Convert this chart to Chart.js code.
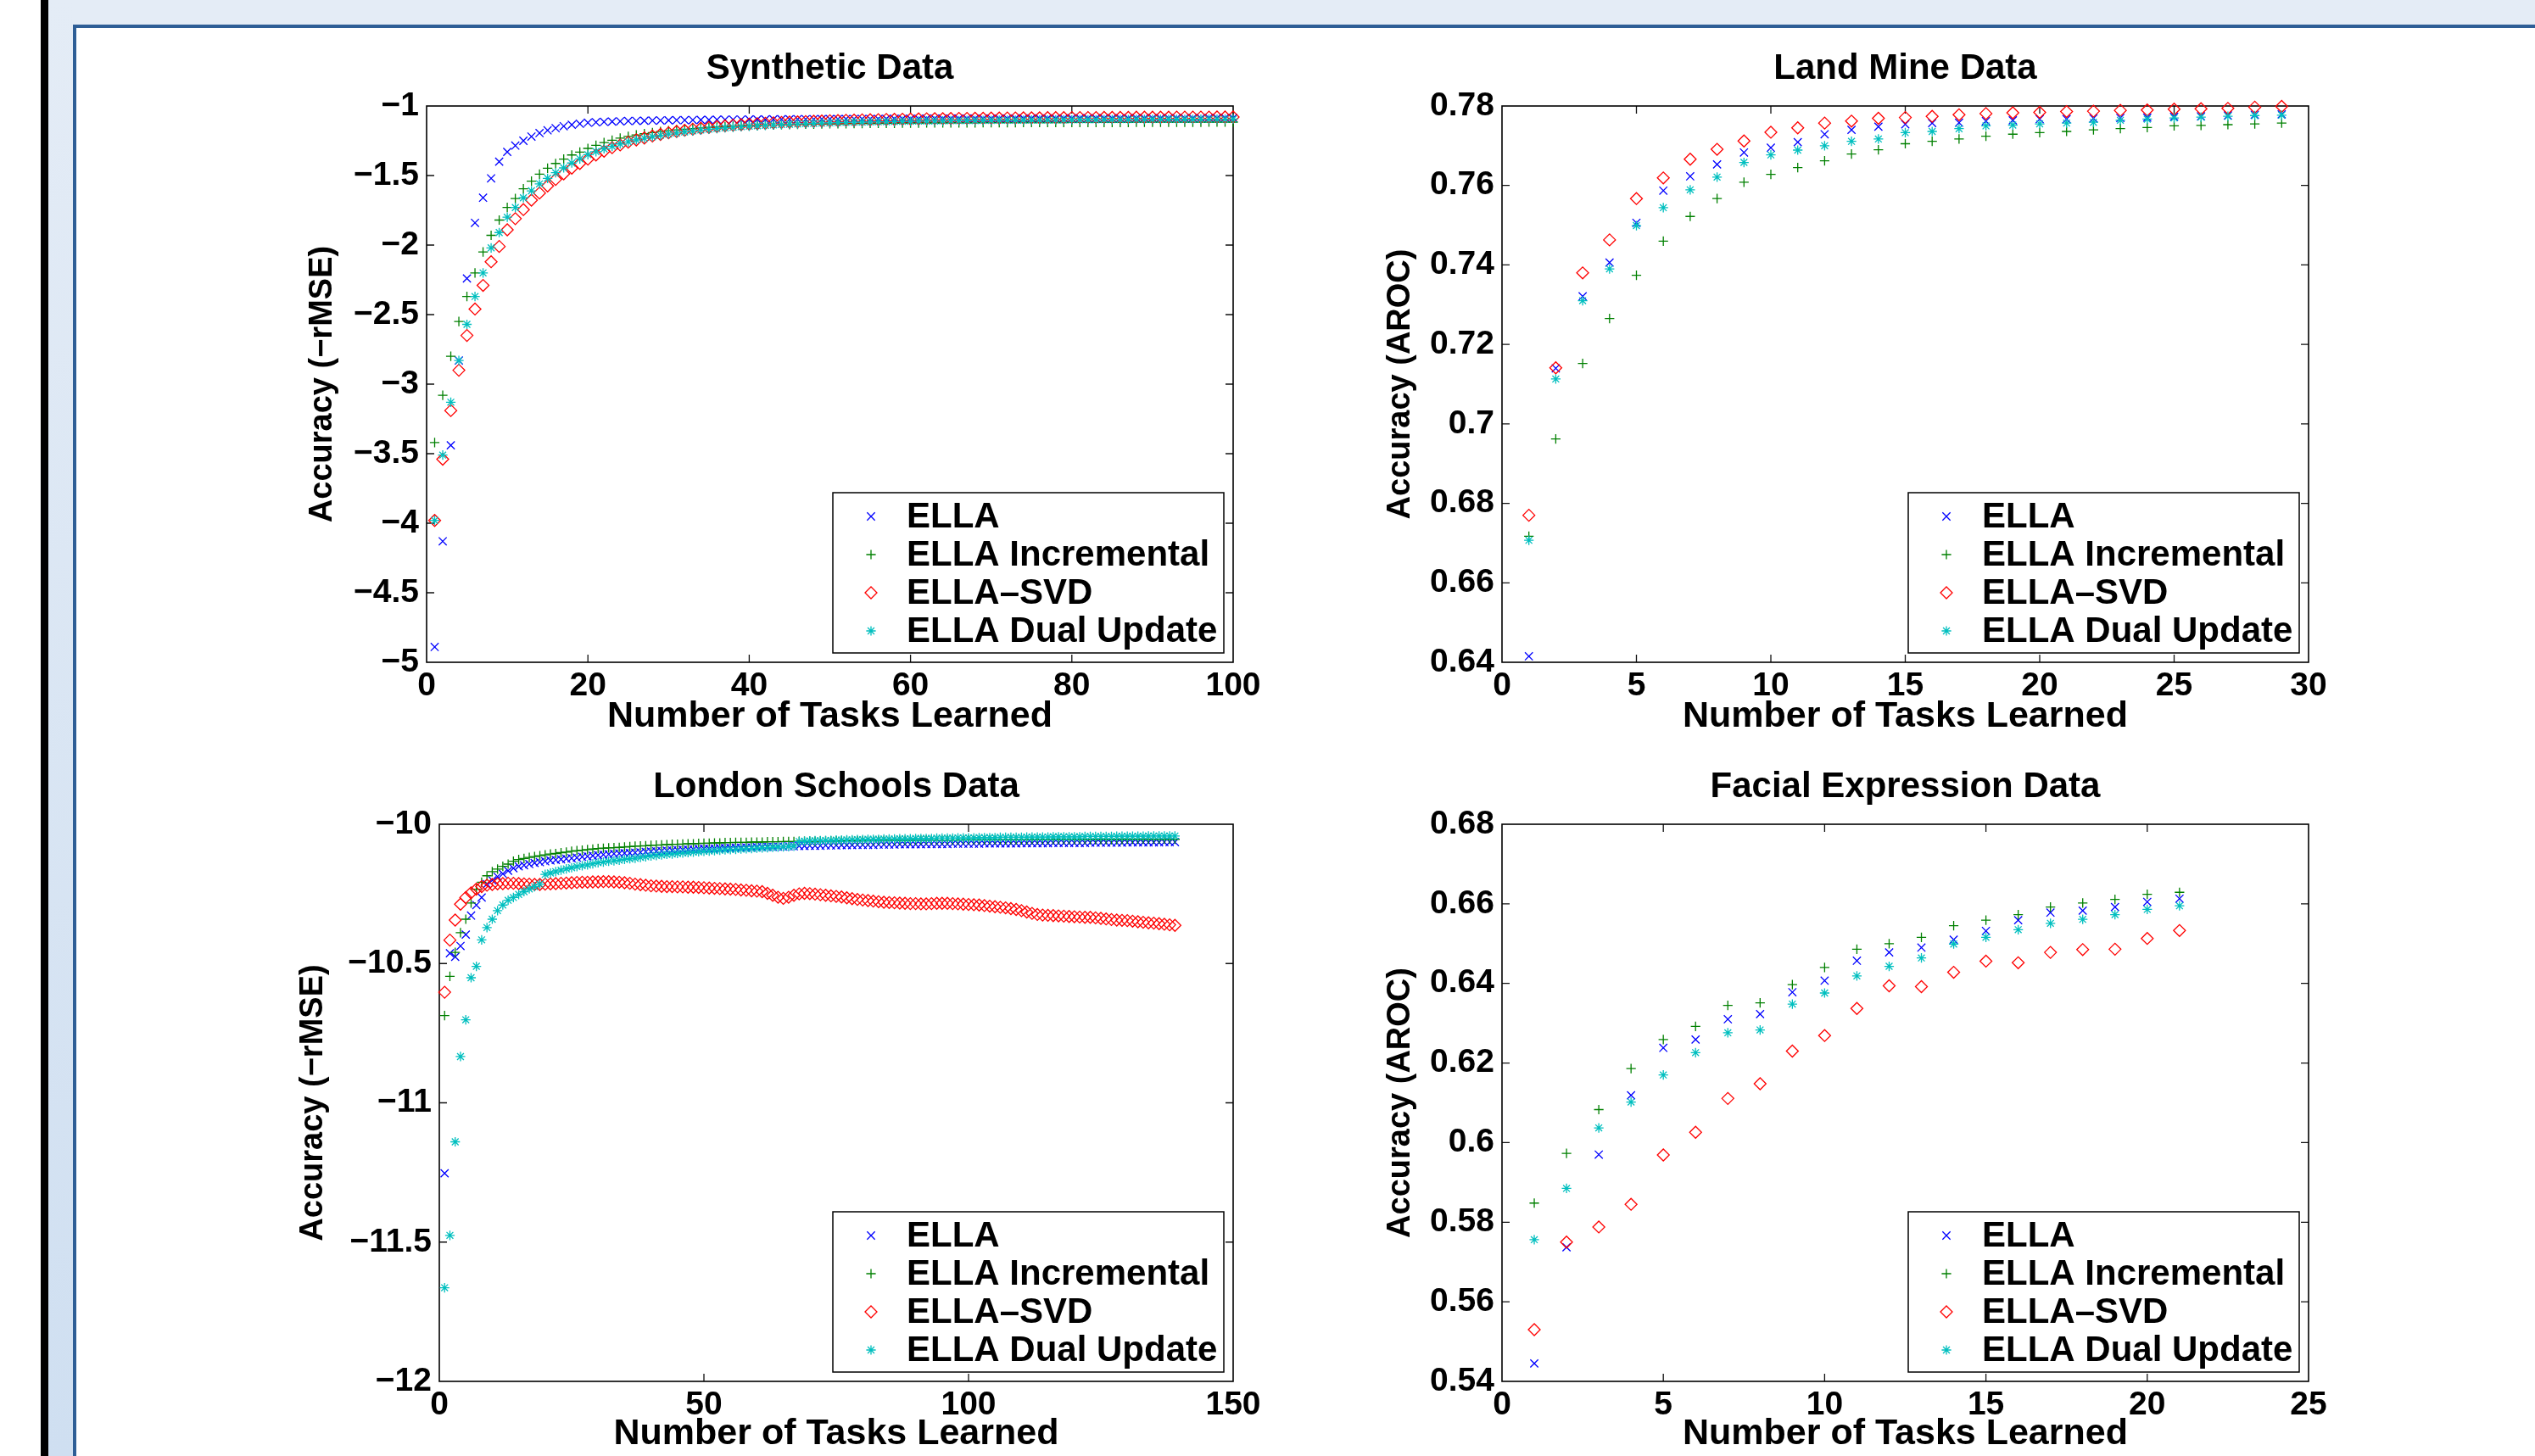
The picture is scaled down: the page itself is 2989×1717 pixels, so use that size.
<!DOCTYPE html>
<html>
<head>
<meta charset="utf-8">
<title>ELLA variants - accuracy vs number of tasks</title>
<script src="https://cdn.jsdelivr.net/npm/chart.js@4/dist/chart.umd.min.js"></script>
<style>
  html, body { margin: 0; padding: 0; background: #fff; }
  #page { position: relative; width: 2989px; height: 1717px; overflow: hidden; background: #fff; }
  .deco { position: absolute; }
  canvas { position: absolute; }
</style>
</head>
<body>
<div id="page">
  <div class="deco" style="left:48px;top:0;width:9px;height:1717px;background:#000"></div>
  <div class="deco" style="left:57px;top:0;width:2932px;height:30px;background:#e4ecf6"></div>
  <div class="deco" style="left:57px;top:0;width:29px;height:1717px;background:linear-gradient(#e4ecf6,#cfdff1)"></div>
  <div class="deco" style="left:86px;top:29px;width:2903px;height:1688px;box-sizing:border-box;border-left:4px solid #2e5e96;border-top:4px solid #2e5e96;background:#fff"></div>
  <canvas id="synthetic"></canvas>
  <canvas id="landmine"></canvas>
  <canvas id="london"></canvas>
  <canvas id="facial"></canvas>
</div>
<script>
// ---- series names ----
const seriesLabels = ['ELLA', 'ELLA Incremental', 'ELLA\u2013SVD', 'ELLA Dual Update'];

// ---- tick values ----
const synthXTicks = [0, 20, 40, 60, 80, 100];
const synthYTicks = [-5, -4.5, -4, -3.5, -3, -2.5, -2, -1.5, -1];
const landXTicks = [0, 5, 10, 15, 20, 25, 30];
const landYTicks = [0.64, 0.66, 0.68, 0.7, 0.72, 0.74, 0.76, 0.78];
const londonXTicks = [0, 50, 100, 150];
const londonYTicks = [-12, -11.5, -11, -10.5, -10];
const faceXTicks = [0, 5, 10, 15, 20, 25];
const faceYTicks = [0.54, 0.56, 0.58, 0.6, 0.62, 0.64, 0.66, 0.68];

// ---- Synthetic Data (tasks 1..100) ----
const synthElla = [
  -4.89, -4.13, -3.44, -2.83, -2.24, -1.84, -1.66, -1.52, -1.40, -1.33,
  -1.285, -1.25, -1.22, -1.195, -1.175, -1.16, -1.145, -1.135, -1.128, -1.12,
  -1.117, -1.114, -1.112, -1.110, -1.108, -1.107, -1.106, -1.105, -1.104, -1.103,
  -1.102, -1.102, -1.101, -1.100, -1.100, -1.099, -1.099, -1.098, -1.098, -1.097,
  -1.097, -1.097, -1.096, -1.096, -1.096, -1.095, -1.095, -1.095, -1.094, -1.094,
  -1.094, -1.094, -1.093, -1.093, -1.093, -1.093, -1.092, -1.092, -1.092, -1.092,
  -1.092, -1.091, -1.091, -1.091, -1.091, -1.091, -1.090, -1.090, -1.090, -1.090,
  -1.090, -1.090, -1.089, -1.089, -1.089, -1.089, -1.089, -1.089, -1.089, -1.088,
  -1.088, -1.088, -1.088, -1.088, -1.088, -1.088, -1.088, -1.087, -1.087, -1.087,
  -1.087, -1.087, -1.087, -1.087, -1.087, -1.087, -1.086, -1.086, -1.086, -1.086
];
const synthIncremental = [
  -3.42, -3.08, -2.80, -2.55, -2.37, -2.20, -2.05, -1.93, -1.82, -1.73,
  -1.665, -1.595, -1.54, -1.49, -1.447, -1.413, -1.382, -1.352, -1.331, -1.305,
  -1.283, -1.263, -1.246, -1.231, -1.219, -1.208, -1.199, -1.191, -1.184, -1.178,
  -1.172, -1.167, -1.162, -1.158, -1.154, -1.151, -1.148, -1.145, -1.143, -1.141,
  -1.139, -1.137, -1.136, -1.134, -1.133, -1.132, -1.131, -1.130, -1.129, -1.128,
  -1.128, -1.127, -1.126, -1.126, -1.125, -1.125, -1.124, -1.124, -1.123, -1.123,
  -1.123, -1.122, -1.122, -1.122, -1.121, -1.121, -1.121, -1.121, -1.120, -1.120,
  -1.120, -1.120, -1.120, -1.119, -1.119, -1.119, -1.119, -1.119, -1.119, -1.118,
  -1.118, -1.118, -1.118, -1.118, -1.118, -1.118, -1.118, -1.117, -1.117, -1.117,
  -1.117, -1.117, -1.117, -1.117, -1.117, -1.117, -1.116, -1.116, -1.116, -1.116
];
const synthSvd = [
  -3.98, -3.54, -3.19, -2.90, -2.65, -2.46, -2.29, -2.12, -2.01, -1.89,
  -1.81, -1.745, -1.677, -1.626, -1.575, -1.528, -1.488, -1.447, -1.413, -1.382,
  -1.352, -1.325, -1.30, -1.28, -1.26, -1.244, -1.23, -1.216, -1.204, -1.193,
  -1.183, -1.175, -1.167, -1.160, -1.154, -1.148, -1.143, -1.138, -1.134, -1.130,
  -1.127, -1.124, -1.121, -1.118, -1.116, -1.114, -1.112, -1.110, -1.108, -1.106,
  -1.105, -1.103, -1.102, -1.100, -1.099, -1.098, -1.097, -1.096, -1.095, -1.094,
  -1.093, -1.092, -1.091, -1.091, -1.090, -1.089, -1.089, -1.088, -1.088, -1.087,
  -1.087, -1.086, -1.086, -1.085, -1.085, -1.085, -1.084, -1.084, -1.084, -1.083,
  -1.083, -1.083, -1.083, -1.082, -1.082, -1.082, -1.082, -1.081, -1.081, -1.081,
  -1.081, -1.081, -1.080, -1.080, -1.080, -1.080, -1.080, -1.079, -1.079, -1.079
];
const synthDual = [
  -3.98, -3.51, -3.13, -2.83, -2.57, -2.37, -2.20, -2.02, -1.91, -1.80,
  -1.73, -1.66, -1.61, -1.56, -1.52, -1.48, -1.445, -1.41, -1.38, -1.35,
  -1.328, -1.308, -1.29, -1.273, -1.258, -1.244, -1.232, -1.221, -1.211, -1.202,
  -1.194, -1.186, -1.179, -1.173, -1.167, -1.162, -1.157, -1.153, -1.149, -1.145,
  -1.142, -1.139, -1.136, -1.133, -1.131, -1.129, -1.127, -1.125, -1.123, -1.121,
  -1.120, -1.118, -1.117, -1.116, -1.115, -1.114, -1.113, -1.112, -1.111, -1.110,
  -1.109, -1.108, -1.108, -1.107, -1.106, -1.106, -1.105, -1.105, -1.104, -1.104,
  -1.103, -1.103, -1.102, -1.102, -1.101, -1.101, -1.101, -1.100, -1.100, -1.100,
  -1.099, -1.099, -1.099, -1.098, -1.098, -1.098, -1.098, -1.097, -1.097, -1.097,
  -1.097, -1.096, -1.096, -1.096, -1.096, -1.095, -1.095, -1.095, -1.095, -1.094
];

// ---- Land Mine Data (tasks 1..29) ----
const landElla = [0.6415, 0.7140, 0.7321, 0.7406, 0.7506, 0.7587, 0.7623, 0.7653, 0.7683, 0.7695,
  0.7709, 0.7729, 0.7740, 0.7748, 0.7754, 0.7757, 0.7758, 0.7762, 0.7764, 0.7767,
  0.7767, 0.7769, 0.7770, 0.7771, 0.7773, 0.7774, 0.7776, 0.7778, 0.7779];
const landIncremental = [0.6717, 0.6962, 0.7152, 0.7265, 0.7374, 0.7460, 0.7522, 0.7567, 0.7608, 0.7628,
  0.7645, 0.7662, 0.7679, 0.7690, 0.7705, 0.7711, 0.7717, 0.7724, 0.7729, 0.7733,
  0.7736, 0.7740, 0.7743, 0.7746, 0.7750, 0.7751, 0.7753, 0.7755, 0.7757];
const landSvd = [0.6770, 0.7141, 0.7380, 0.7463, 0.7567, 0.7619, 0.7666, 0.7691, 0.7712, 0.7734,
  0.7745, 0.7757, 0.7762, 0.7769, 0.7771, 0.7774, 0.7778, 0.7781, 0.7783, 0.7784,
  0.7786, 0.7787, 0.7789, 0.7790, 0.7792, 0.7793, 0.7794, 0.7797, 0.7799];
const landDual = [0.6707, 0.7113, 0.7310, 0.7390, 0.7499, 0.7544, 0.7589, 0.7621, 0.7658, 0.7677,
  0.7689, 0.7700, 0.7711, 0.7717, 0.7733, 0.7736, 0.7743, 0.7750, 0.7752, 0.7755,
  0.7757, 0.7759, 0.7764, 0.7767, 0.7770, 0.7772, 0.7774, 0.7776, 0.7777];

// ---- London Schools Data (tasks 1..139) ----
const londonElla = [
  -11.253, -10.463, -10.476, -10.437, -10.396, -10.328, -10.290, -10.263, -10.215, -10.201,
  -10.188, -10.178, -10.167, -10.158, -10.151, -10.147, -10.143, -10.139, -10.136, -10.133,
  -10.130, -10.128, -10.126, -10.124, -10.122, -10.120, -10.117, -10.115, -10.113, -10.111,
  -10.109, -10.108, -10.106, -10.105, -10.104, -10.103, -10.102, -10.101, -10.099, -10.098,
  -10.097, -10.096, -10.095, -10.094, -10.093, -10.092, -10.091, -10.090, -10.089, -10.088,
  -10.088, -10.087, -10.086, -10.086, -10.085, -10.084, -10.084, -10.083, -10.083, -10.082,
  -10.082, -10.081, -10.081, -10.080, -10.080, -10.079, -10.079, -10.078, -10.078, -10.077,
  -10.077, -10.077, -10.076, -10.076, -10.076, -10.075, -10.075, -10.075, -10.074, -10.074,
  -10.074, -10.074, -10.073, -10.073, -10.073, -10.073, -10.072, -10.072, -10.072, -10.072,
  -10.072, -10.071, -10.071, -10.071, -10.071, -10.071, -10.070, -10.070, -10.070, -10.070,
  -10.070, -10.070, -10.069, -10.069, -10.069, -10.069, -10.069, -10.069, -10.069, -10.068,
  -10.068, -10.068, -10.068, -10.068, -10.068, -10.067, -10.067, -10.067, -10.067, -10.067,
  -10.067, -10.067, -10.066, -10.066, -10.066, -10.066, -10.066, -10.066, -10.066, -10.065,
  -10.065, -10.065, -10.065, -10.065, -10.065, -10.065, -10.064, -10.064, -10.064
];
const londonIncremental = [
  -10.687, -10.546, -10.460, -10.389, -10.341, -10.283, -10.233, -10.208, -10.185, -10.170,
  -10.161, -10.151, -10.143, -10.133, -10.127, -10.123, -10.119, -10.116, -10.113, -10.110,
  -10.107, -10.105, -10.102, -10.100, -10.097, -10.095, -10.093, -10.091, -10.089, -10.087,
  -10.086, -10.085, -10.084, -10.083, -10.082, -10.080, -10.079, -10.078, -10.077, -10.076,
  -10.075, -10.074, -10.073, -10.072, -10.072, -10.071, -10.070, -10.070, -10.069, -10.068,
  -10.068, -10.067, -10.067, -10.066, -10.066, -10.065, -10.065, -10.065, -10.064, -10.064,
  -10.064, -10.063, -10.063, -10.063, -10.062, -10.062, -10.062, -10.061, -10.061, -10.061,
  -10.061, -10.060, -10.060, -10.060, -10.060, -10.060, -10.059, -10.059, -10.059, -10.059,
  -10.059, -10.059, -10.058, -10.058, -10.058, -10.058, -10.058, -10.058, -10.058, -10.057,
  -10.057, -10.057, -10.057, -10.057, -10.057, -10.057, -10.057, -10.057, -10.056, -10.056,
  -10.056, -10.056, -10.056, -10.056, -10.056, -10.056, -10.056, -10.056, -10.056, -10.056,
  -10.056, -10.055, -10.055, -10.055, -10.055, -10.055, -10.055, -10.055, -10.055, -10.055,
  -10.055, -10.055, -10.055, -10.055, -10.055, -10.055, -10.055, -10.055, -10.055, -10.054,
  -10.054, -10.054, -10.054, -10.054, -10.054, -10.054, -10.054, -10.054, -10.054
];
const londonSvd = [
  -10.603, -10.416, -10.344, -10.287, -10.263, -10.246, -10.233, -10.224, -10.219, -10.216,
  -10.214, -10.213, -10.212, -10.212, -10.213, -10.214, -10.215, -10.216, -10.216, -10.215,
  -10.214, -10.213, -10.212, -10.211, -10.210, -10.209, -10.208, -10.208, -10.207, -10.207,
  -10.206, -10.206, -10.207, -10.208, -10.210, -10.212, -10.215, -10.217, -10.219, -10.221,
  -10.222, -10.223, -10.224, -10.224, -10.225, -10.225, -10.226, -10.226, -10.227, -10.228,
  -10.229, -10.230, -10.231, -10.232, -10.233, -10.234, -10.236, -10.237, -10.239, -10.240,
  -10.242, -10.248, -10.255, -10.262, -10.266, -10.262, -10.255, -10.250, -10.248, -10.249,
  -10.251, -10.253, -10.255, -10.257, -10.259, -10.261, -10.264, -10.267, -10.270, -10.272,
  -10.274, -10.276, -10.278, -10.280, -10.281, -10.282, -10.283, -10.284, -10.285, -10.285,
  -10.286, -10.286, -10.285, -10.284, -10.284, -10.284, -10.285, -10.286, -10.287, -10.288,
  -10.289, -10.290, -10.292, -10.294, -10.296, -10.298, -10.300, -10.303, -10.306, -10.310,
  -10.315, -10.320, -10.324, -10.326, -10.327, -10.328, -10.329, -10.330, -10.331, -10.332,
  -10.333, -10.334, -10.334, -10.336, -10.338, -10.340, -10.342, -10.344, -10.345, -10.346,
  -10.348, -10.350, -10.352, -10.354, -10.355, -10.357, -10.359, -10.361, -10.363
];
const londonDual = [
  -11.664, -11.476, -11.140, -10.834, -10.702, -10.551, -10.510, -10.415, -10.371, -10.341,
  -10.310, -10.290, -10.273, -10.263, -10.252, -10.242, -10.232, -10.224, -10.215, -10.180,
  -10.175, -10.170, -10.165, -10.160, -10.156, -10.152, -10.149, -10.146, -10.142, -10.138,
  -10.136, -10.133, -10.131, -10.129, -10.126, -10.124, -10.122, -10.119, -10.117, -10.114,
  -10.112, -10.110, -10.108, -10.107, -10.105, -10.103, -10.102, -10.100, -10.099, -10.097,
  -10.096, -10.095, -10.093, -10.092, -10.091, -10.090, -10.089, -10.088, -10.087, -10.086,
  -10.085, -10.084, -10.083, -10.082, -10.081, -10.080, -10.079, -10.062, -10.061, -10.060,
  -10.059, -10.059, -10.058, -10.058, -10.057, -10.057, -10.056, -10.056, -10.055, -10.055,
  -10.054, -10.054, -10.054, -10.053, -10.053, -10.053, -10.052, -10.052, -10.052, -10.051,
  -10.051, -10.051, -10.051, -10.050, -10.050, -10.050, -10.050, -10.049, -10.049, -10.049,
  -10.049, -10.048, -10.048, -10.048, -10.048, -10.047, -10.047, -10.047, -10.047, -10.047,
  -10.046, -10.046, -10.046, -10.046, -10.046, -10.045, -10.045, -10.045, -10.045, -10.045,
  -10.045, -10.044, -10.044, -10.044, -10.044, -10.044, -10.044, -10.043, -10.043, -10.043,
  -10.043, -10.043, -10.043, -10.042, -10.042, -10.042, -10.042, -10.042, -10.042
];

// ---- Facial Expression Data (tasks 1..21) ----
const faceElla = [0.5445, 0.5737, 0.5970, 0.6119, 0.6238, 0.6259, 0.6310, 0.6323, 0.6378, 0.6407,
  0.6457, 0.6478, 0.6490, 0.6510, 0.6532, 0.6559, 0.6578, 0.6583, 0.6592, 0.6605, 0.6613];
const faceIncremental = [0.5848, 0.5973, 0.6083, 0.6186, 0.6259, 0.6292, 0.6345, 0.6351, 0.6397, 0.6440,
  0.6486, 0.6500, 0.6516, 0.6545, 0.6559, 0.6573, 0.6592, 0.6602, 0.6611, 0.6624, 0.6629];
const faceSvd = [0.5530, 0.5750, 0.5788, 0.5845, 0.5969, 0.6026, 0.6111, 0.6148, 0.6230, 0.6269,
  0.6337, 0.6394, 0.6392, 0.6428, 0.6456, 0.6452, 0.6478, 0.6485, 0.6486, 0.6513, 0.6533];
const faceDual = [0.5756, 0.5885, 0.6037, 0.6102, 0.6170, 0.6226, 0.6276, 0.6283, 0.6348, 0.6376,
  0.6419, 0.6443, 0.6464, 0.6499, 0.6516, 0.6535, 0.6551, 0.6561, 0.6573, 0.6586, 0.6595];

// marker look per series (matlab x, +, diamond, *)
const seriesMarkers = [
  { pointStyle: 'crossRot', radius: 6.6, color: '#0000ff', order: 4 },
  { pointStyle: 'cross', radius: 5.6, color: '#008000', order: 3 },
  { pointStyle: 'rectRot', radius: 7, color: '#ff0000', order: 2 },
  { pointStyle: 'star', radius: 5.6, color: '#00bfbf', order: 1 }
];

const FONT = '"Liberation Sans", Arial, Helvetica, sans-serif';
Chart.defaults.font.family = FONT;
Chart.defaults.color = '#000';

const TICK_SIZE = 39, XTITLE_SIZE = 43, YTITLE_SIZE = 38, TEXT_SIZE = 42;

const fmtTick = v => (v < 0 ? '\u2212' : '') + String(Math.abs(v));

function drawMarker(ctx, m, x, y) {
  if (Chart.helpers && Chart.helpers.drawPoint) {
    Chart.helpers.drawPoint(ctx, { pointStyle: m.pointStyle, radius: m.radius, borderWidth: 1.3, rotation: 0 }, x, y);
    return;
  }
  // fallback if helpers are not exposed
  const r = m.radius;
  ctx.beginPath();
  ctx.moveTo(x - r, y); ctx.lineTo(x + r, y);
  ctx.moveTo(x, y - r); ctx.lineTo(x, y + r);
  ctx.stroke();
}

// box, inner ticks, title and legend in the matlab style
const matlabFrame = {
  id: 'matlabFrame',
  beforeDatasetsDraw(chart) {
    const { ctx, chartArea: a, scales: { x, y } } = chart;
    ctx.save();
    ctx.strokeStyle = '#111';
    ctx.lineWidth = 1.3;
    ctx.beginPath();
    x.ticks.forEach(t => {
      const px = x.getPixelForValue(t.value);
      if (px <= a.left + 1 || px >= a.right - 1) return;
      ctx.moveTo(px, a.bottom); ctx.lineTo(px, a.bottom - 9);
      ctx.moveTo(px, a.top); ctx.lineTo(px, a.top + 9);
    });
    y.ticks.forEach(t => {
      const py = y.getPixelForValue(t.value);
      if (py <= a.top + 1 || py >= a.bottom - 1) return;
      ctx.moveTo(a.left, py); ctx.lineTo(a.left + 9, py);
      ctx.moveTo(a.right, py); ctx.lineTo(a.right - 9, py);
    });
    ctx.stroke();
    ctx.strokeStyle = '#000';
    ctx.lineWidth = 1.6;
    ctx.strokeRect(a.left, a.top, a.right - a.left, a.bottom - a.top);
    ctx.restore();
  },
  afterDatasetsDraw(chart, args, opts) {
    const { ctx, chartArea: a } = chart;
    ctx.save();
    // title
    ctx.fillStyle = '#000';
    ctx.font = 'bold ' + TEXT_SIZE + 'px ' + FONT;
    ctx.textAlign = 'center';
    ctx.textBaseline = 'middle';
    ctx.fillText(opts.title, (a.left + a.right) / 2, a.top - 44);

    // legend box, bottom right inside the axes
    const w = 461, h = 189;
    const lx = a.right - 11 - w, ly = a.bottom - 11 - h;
    ctx.fillStyle = '#fff';
    ctx.fillRect(lx, ly, w, h);
    ctx.strokeStyle = '#000';
    ctx.lineWidth = 1.5;
    ctx.strokeRect(lx, ly, w, h);
    chart.data.datasets.forEach((ds, i) => {
      const m = seriesMarkers[i];
      const ry = ly + 28 + i * 45;
      ctx.strokeStyle = m.color;
      ctx.fillStyle = 'rgba(0,0,0,0)';
      ctx.lineWidth = 1.3;
      drawMarker(ctx, m, lx + 45, ry);
      ctx.fillStyle = '#000';
      ctx.font = 'bold ' + TEXT_SIZE + 'px ' + FONT;
      ctx.textAlign = 'left';
      ctx.textBaseline = 'middle';
      ctx.fillText(ds.label, lx + 87, ry + 1);
    });
    ctx.restore();
  }
};
Chart.register(matlabFrame);

function makePlot(id, geo, spec) {
  const canvas = document.getElementById(id);
  canvas.width = geo.w;
  canvas.height = geo.h;
  canvas.style.left = geo.left + 'px';
  canvas.style.top = geo.top + 'px';

  const datasets = spec.series.map((vals, k) => ({
    label: seriesLabels[k],
    data: vals.map((v, i) => ({ x: i + 1, y: v })),
    showLine: false,
    pointStyle: seriesMarkers[k].pointStyle,
    pointRadius: seriesMarkers[k].radius,
    pointBorderWidth: 1.3,
    pointBorderColor: seriesMarkers[k].color,
    pointBackgroundColor: 'rgba(0,0,0,0)',
    borderColor: seriesMarkers[k].color,
    backgroundColor: 'rgba(0,0,0,0)',
    order: seriesMarkers[k].order,
    clip: false
  }));

  const yTitleLh = YTITLE_SIZE * 1.2, xTitleLh = XTITLE_SIZE * 1.2;

  new Chart(canvas, {
    type: 'scatter',
    data: { datasets },
    options: {
      responsive: false,
      animation: false,
      devicePixelRatio: 1,
      events: [],
      layout: {
        padding: { left: 0, top: geo.area.top - geo.top, right: geo.left + geo.w - geo.area.right, bottom: 0 }
      },
      plugins: {
        legend: { display: false },
        tooltip: { enabled: false },
        matlabFrame: { title: spec.title }
      },
      scales: {
        x: {
          type: 'linear',
          min: spec.xTicks[0],
          max: spec.xTicks[spec.xTicks.length - 1],
          afterBuildTicks: s => { s.ticks = spec.xTicks.map(v => ({ value: v })); },
          afterFit: s => { s.height = geo.top + geo.h - geo.area.bottom; },
          grid: { display: false, drawTicks: false },
          border: { display: false },
          ticks: {
            autoSkip: false, maxRotation: 0, padding: 5,
            font: { size: TICK_SIZE, weight: 'bold' }, color: '#000',
            callback: v => fmtTick(v)
          },
          title: {
            display: true, text: 'Number of Tasks Learned', color: '#000',
            font: { size: XTITLE_SIZE, weight: 'bold' },
            padding: { top: 0, bottom: Math.max(0, geo.top + geo.h - geo.xTitleY - xTitleLh / 2) }
          }
        },
        y: {
          type: 'linear',
          min: spec.yTicks[0],
          max: spec.yTicks[spec.yTicks.length - 1],
          afterBuildTicks: s => { s.ticks = spec.yTicks.map(v => ({ value: v })); },
          afterFit: s => { s.width = geo.area.left - geo.left; },
          grid: { display: false, drawTicks: false },
          border: { display: false },
          ticks: {
            autoSkip: false, padding: 9,
            font: { size: TICK_SIZE, weight: 'bold' }, color: '#000',
            callback: v => fmtTick(v)
          },
          title: {
            display: true, text: spec.yTitle, color: '#000',
            font: { size: YTITLE_SIZE, weight: 'bold' },
            padding: { top: geo.yTitleX - geo.left - yTitleLh / 2, bottom: 0 }
          }
        }
      }
    }
  });
}

makePlot('synthetic',
  { left: 300, top: 0, w: 1220, h: 900, area: { left: 503, top: 125, right: 1454, bottom: 781 }, yTitleX: 381, xTitleY: 845 },
  { title: 'Synthetic Data', yTitle: 'Accuracy (\u2212rMSE)', xTicks: synthXTicks, yTicks: synthYTicks,
    series: [synthElla, synthIncremental, synthSvd, synthDual] });

makePlot('landmine',
  { left: 1560, top: 0, w: 1220, h: 900, area: { left: 1771, top: 125, right: 2722, bottom: 781 }, yTitleX: 1652, xTitleY: 845 },
  { title: 'Land Mine Data', yTitle: 'Accuracy (AROC)', xTicks: landXTicks, yTicks: landYTicks,
    series: [landElla, landIncremental, landSvd, landDual] });

makePlot('london',
  { left: 300, top: 900, w: 1220, h: 817, area: { left: 518, top: 972, right: 1454, bottom: 1629 }, yTitleX: 370, xTitleY: 1693 },
  { title: 'London Schools Data', yTitle: 'Accuracy (\u2212rMSE)', xTicks: londonXTicks, yTicks: londonYTicks,
    series: [londonElla, londonIncremental, londonSvd, londonDual] });

makePlot('facial',
  { left: 1560, top: 900, w: 1220, h: 817, area: { left: 1771, top: 972, right: 2722, bottom: 1629 }, yTitleX: 1652, xTitleY: 1693 },
  { title: 'Facial Expression Data', yTitle: 'Accuracy (AROC)', xTicks: faceXTicks, yTicks: faceYTicks,
    series: [faceElla, faceIncremental, faceSvd, faceDual] });
</script>
</body>
</html>
